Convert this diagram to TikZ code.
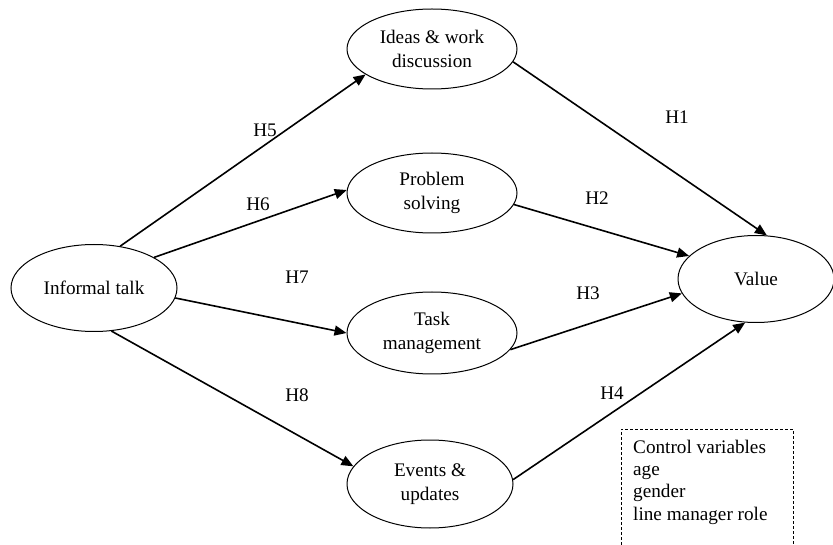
\documentclass[tikz,border=0pt]{standalone}
\usepackage{fontspec}
\setmainfont{Liberation Serif}
\usetikzlibrary{shapes.geometric,arrows.meta}
\begin{document}
\begin{tikzpicture}[x=1pt,y=-1pt,
  var/.style={draw, ellipse, line width=1pt, minimum width=168pt, minimum height=82pt, inner sep=0pt, align=center, font=\fontsize{19.2}{24}\selectfont},
  conn/.style={line width=1.6pt, -{Triangle[length=12pt,width=10pt]}},
  hlab/.style={font=\fontsize{19.2}{24}\selectfont},
  ctrl/.style={dash pattern=on 3pt off 2pt, line width=0.8pt}]
\useasboundingbox (0,0) rectangle (833,545);
% nodes
\node[var, minimum width=166pt, minimum height=87pt] (inf) at (94,288) {Informal talk};
\node[var, minimum width=170pt, minimum height=80pt] (ide) at (432,49) {Ideas \& work\\discussion};
\node[var, minimum width=170pt, minimum height=80pt] (pro) at (432,193) {Problem\\solving};
\node[var, minimum width=170pt, minimum height=82pt] (tas) at (432,333) {Task\\management};
\node[var, minimum width=166pt, minimum height=88pt] (eve) at (430,484) {Events \&\\updates};
\node[var, minimum width=156pt, minimum height=87pt] (val) at (756,279) {Value};
% connectors
\draw[conn] (inf.58) -- (ide.201);
\draw[conn] (inf.27) -- (pro.178);
\draw[conn] (inf.-7) -- (tas.180);
\draw[conn] (inf.-68) -- (eve.167);
\draw[conn] (ide.-9) -- (val.76);
\draw[conn] (pro.-8) -- (val.161);
\draw[conn] (tas.-12) -- (val.191);
\draw[conn] (eve.3) -- (val.256);
% labels
\node[hlab] (h5) at (265,130) {H5};
\node[hlab] (h6) at (258,204) {H6};
\node[hlab] (h7) at (297,277) {H7};
\node[hlab] (h8) at (297,395) {H8};
\node[hlab] (h1) at (677,117) {H1};
\node[hlab] (h2) at (597,198) {H2};
\node[hlab] (h3) at (588,293) {H3};
\node[hlab] (h4) at (612,393) {H4};
% control variables box
\coordinate (cbl) at (621,545);
\coordinate (ctl) at (621,429);
\coordinate (ctr) at (793,429);
\coordinate (cbr) at (793,545);
\draw[ctrl] (cbl) -- (ctl) -- (ctr) -- (cbr);
\node[anchor=base west, inner sep=0pt, align=left, font=\fontsize{19.2}{22.3}\selectfont] (ctext) at (633,520) {Control variables\\age\\gender\\line manager role};
\end{tikzpicture}
\end{document}
